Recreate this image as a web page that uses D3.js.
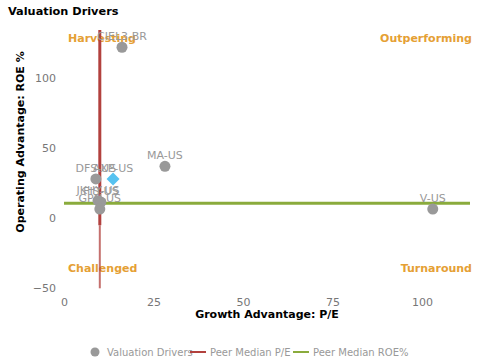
<!DOCTYPE html>
<html><head><meta charset="utf-8">
<script src="https://cdn.jsdelivr.net/npm/d3@7"></script>
<style>body{margin:0;background:#fff}svg{display:block;font-family:"DejaVu Sans",sans-serif}</style>
</head><body><svg id="c" width="480" height="360"></svg>
<script>
const companies = ["CIEL3-BR","MA-US","V-US","DFS-US","AXP-US","JKHY-US","FIS-US","GPN-US"];
const peValues  = [16.2, 28.2, 103, 8.9, 13.7, 9.5, 10.3, 10.0];
const roeValues = [122, 37, 6.5, 28, 28, 12.5, 11.5, 6.5];
const highlight = ["AXP-US"];
const medianPE = 10;
const medianROE = 10.7;
const xTicks = [0,25,50,75,100];
const yTicks = [-50,0,50,100];
const quadrants = ["Harvesting","Outperforming","Challenged","Turnaround"];
const legendLabels = ["Valuation Drivers","Peer Median P/E","Peer Median ROE%"];

const svg = d3.select("#c");
const L=64,R=470,T=30,B=289;
const x = d3.scaleLinear().domain([0,113.4]).range([L,R]);
const y = d3.scaleLinear().domain([-50.5,134.3]).range([B,T]);

svg.append("text").attr("x",8).attr("y",15).attr("font-size",11.3).attr("font-weight","bold").attr("fill","#000").text("Valuation Drivers");

// axes
const xa = svg.append("g").attr("transform",`translate(0,${B})`).call(d3.axisBottom(x).tickValues(xTicks).tickSize(0).tickPadding(9));
xa.select(".domain").remove();
xa.selectAll("text").attr("font-size",11).attr("fill","#777").attr("font-family","DejaVu Sans");
const ya = svg.append("g").attr("transform",`translate(${L-8},0)`).call(d3.axisLeft(y).tickValues(yTicks).tickSize(0).tickPadding(0));
ya.select(".domain").remove();
ya.selectAll("text").attr("font-size",11).attr("fill","#777").attr("font-family","DejaVu Sans");

svg.append("text").attr("x",267).attr("y",318).attr("text-anchor","middle").attr("font-size",11).attr("font-weight","bold").text("Growth Advantage: P/E");
svg.append("text").attr("transform","translate(24,142) rotate(-90)").attr("text-anchor","middle").attr("font-size",11).attr("font-weight","bold").text("Operating Advantage: ROE %");

// quadrant labels
const qc="#e5a034";
const qpos=[[L+4,42,"start"],[R+2,42,"end"],[L+4,272,"start"],[R+2,272,"end"]];
quadrants.forEach((q,i)=>svg.append("text").attr("x",qpos[i][0]).attr("y",qpos[i][1]).attr("text-anchor",qpos[i][2]).attr("font-size",11).attr("font-weight","bold").attr("fill",qc).text(q));

// median lines
svg.append("line").attr("x1",x(medianPE)).attr("x2",x(medianPE)).attr("y1",y(134.3)).attr("y2",y(-5)).attr("stroke","#b2413e").attr("stroke-width",3);
svg.append("line").attr("x1",x(medianPE)).attr("x2",x(medianPE)).attr("y1",y(-5)).attr("y2",y(-50)).attr("stroke","#b2413e").attr("stroke-width",2).attr("opacity",0.75);
svg.append("line").attr("x1",L).attr("x2",R).attr("y1",y(medianROE)).attr("y2",y(medianROE)).attr("stroke","#8aab3c").attr("stroke-width",3);

// points
companies.forEach((c,i)=>{
  const px=x(peValues[i]), py=y(roeValues[i]);
  if(highlight.includes(c)){
    svg.append("path").attr("d","M0,-6.5L6.5,0L0,6.5L-6.5,0Z").attr("transform",`translate(${px},${py})`).attr("fill","#56c2f0");
  } else {
    svg.append("circle").attr("cx",px).attr("cy",py).attr("r",5.5).attr("fill","#999");
  }
  svg.append("text").attr("x",px).attr("y",py-7).attr("text-anchor","middle").attr("font-size",11).attr("fill","#999").text(c);
});

// legend
const lg=svg.append("g").attr("font-size",10).attr("fill","#999");
lg.append("circle").attr("cx",95).attr("cy",352).attr("r",4.5).attr("fill","#999");
lg.append("text").attr("x",107).attr("y",356).text(legendLabels[0]);
lg.append("line").attr("x1",190).attr("x2",206).attr("y1",352).attr("y2",352).attr("stroke","#b2413e").attr("stroke-width",2);
lg.append("text").attr("x",210).attr("y",356).text(legendLabels[1]);
lg.append("line").attr("x1",293).attr("x2",309).attr("y1",352).attr("y2",352).attr("stroke","#8aab3c").attr("stroke-width",2);
lg.append("text").attr("x",313).attr("y",356).text(legendLabels[2]);
</script></body></html>
